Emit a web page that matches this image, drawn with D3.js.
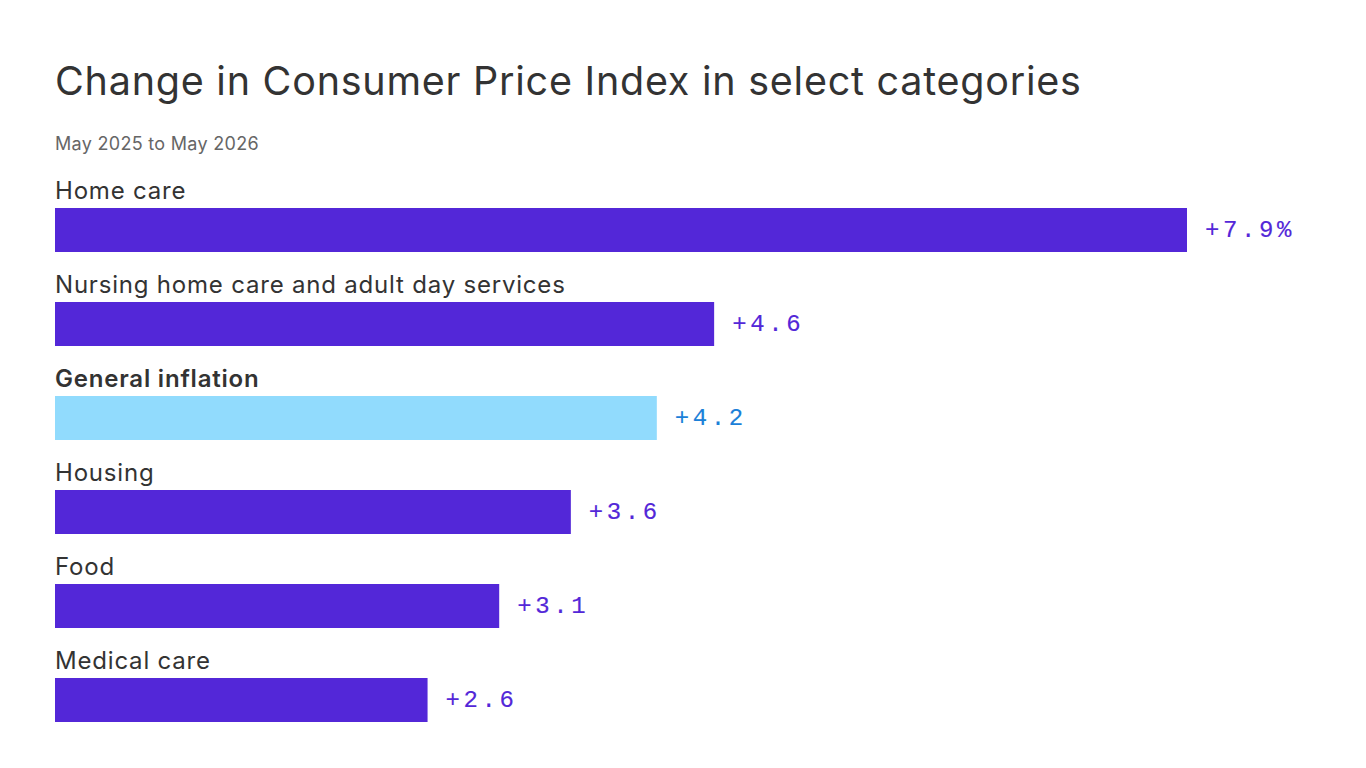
<html>
  <head>
    <title>CPI change</title>
    <meta charset="utf-8" />
    <script src="https://cdnjs.cloudflare.com/ajax/libs/d3/7.6.1/d3.min.js"></script>
    <style>
      body {
        margin: 0;
        background: #fff;
      }
      svg {
        display: block;
      }
    </style>
  </head>
  <body>
    <svg width="1366" height="768"></svg>
  </body>

  <script>
    const categories = [
      "Home care",
      "Nursing home care and adult day services",
      "General inflation",
      "Housing",
      "Food",
      "Medical care",
    ];
    const values = [7.9, 4.6, 4.2, 3.6, 3.1, 2.6];
    const valueLabels = ["+7.9%", "+4.6", "+4.2", "+3.6", "+3.1", "+2.6"];
    const highlight = "General inflation";

    const svg = d3.select("svg");
    const font = "Inter, 'Noto Sans', sans-serif";

    svg
      .append("text")
      .attr("x", 55)
      .attr("y", 95)
      .attr("font-family", font)
      .attr("font-size", 39.5)
      .attr("letter-spacing", 0.75)
      .attr("fill", "#333")
      .text("Change in Consumer Price Index in select categories");

    svg
      .append("text")
      .attr("x", 55)
      .attr("y", 150)
      .attr("font-family", font)
      .attr("font-size", 18)
      .attr("letter-spacing", 0.3)
      .attr("fill", "#666")
      .text("May 2025 to May 2026");

    const xScale = d3.scaleLinear().domain([0, 7.9]).range([55, 1187]);
    const yScale = d3.scaleBand().domain(categories).range([160, 724]);

    const rows = svg
      .selectAll("g.row")
      .data(categories)
      .join("g")
      .attr("class", "row")
      .attr("transform", (d) => `translate(0,${yScale(d)})`);

    rows
      .append("text")
      .attr("x", 55)
      .attr("y", 39)
      .attr("font-family", font)
      .attr("font-size", 24)
      .attr("letter-spacing", 0.8)
      .attr("font-weight", (d) => (d === highlight ? 600 : 400))
      .attr("fill", "#333")
      .text((d) => d);

    rows
      .append("rect")
      .attr("x", xScale(0))
      .attr("y", 48)
      .attr("height", 44)
      .attr("width", (d, i) => xScale(values[i]) - xScale(0))
      .attr("fill", (d) => (d === highlight ? "#91dbfd" : "#5327d8"));

    rows
      .append("text")
      .attr("x", (d, i) => xScale(values[i]) + 18)
      .attr("y", 77)
      .attr("font-family", "'Liberation Mono', 'DejaVu Sans Mono', monospace")
      .attr("font-size", 24)
      .attr("letter-spacing", 3.6)
      .attr("stroke-width", 0.15)
      .attr("fill", (d) => (d === highlight ? "#1a80d8" : "#5327d8"))
      .attr("stroke", (d) => (d === highlight ? "#1a80d8" : "#5327d8"))
      .text((d, i) => valueLabels[i]);
  </script>
</html>
